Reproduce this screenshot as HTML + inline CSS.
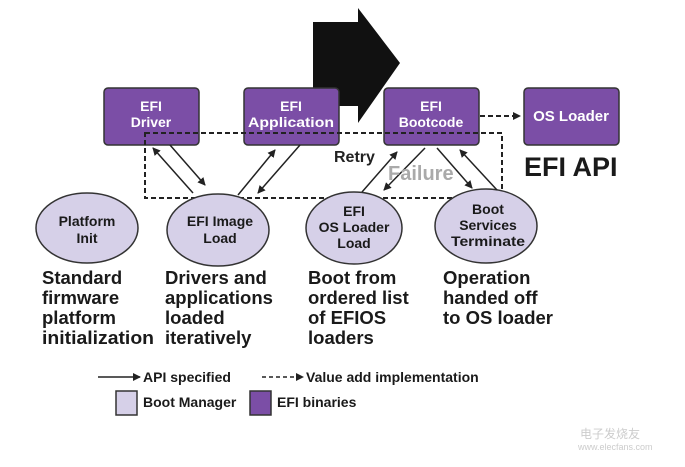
<!DOCTYPE html>
<html><head><style>
body{margin:0;width:685px;height:467px;background:#fff;position:relative;overflow:hidden;font-family:"Liberation Sans",Arial,sans-serif}
</style></head><body>
<svg width="685" height="467" style="position:absolute;left:0;top:0" font-family="Liberation Sans, Arial, sans-serif" font-weight="bold">
<defs>
<marker id="a" markerWidth="8" markerHeight="8" refX="7" refY="4" orient="auto" markerUnits="userSpaceOnUse"><path d="M0,0 L8,4 L0,8 z" fill="#222"/></marker>
</defs>
<polygon points="313,22 358,22 358,8 400,63 358,123 358,106 313,106" fill="#111"/>
<g fill="#7b4ea6" stroke="#333" stroke-width="1.5">
<rect x="104" y="88" width="95" height="57" rx="4"/>
<rect x="244" y="88" width="95" height="57" rx="4"/>
<rect x="384" y="88" width="95" height="57" rx="4"/>
<rect x="524" y="88" width="95" height="57" rx="4"/>
</g>
<g fill="#fff" font-size="14" text-anchor="middle">
<text x="151" y="111">EFI</text><text x="151" y="127">Driver</text>
<text x="291" y="111">EFI</text><text x="291" y="127" textLength="86" lengthAdjust="spacingAndGlyphs">Application</text>
<text x="431" y="111">EFI</text><text x="431" y="127">Bootcode</text>
<text x="571" y="121" font-size="15">OS Loader</text>
</g>
<line x1="480" y1="116" x2="520" y2="116" stroke="#222" stroke-width="2" stroke-dasharray="5,3" marker-end="url(#a)"/>
<rect x="145" y="133" width="357" height="65" fill="none" stroke="#222" stroke-width="2" stroke-dasharray="5,3"/>
<g fill="#d6d0e8" stroke="#333" stroke-width="1.5">
<ellipse cx="87" cy="228" rx="51" ry="35"/>
<ellipse cx="218" cy="230" rx="51" ry="36"/>
<ellipse cx="354" cy="228" rx="48" ry="36"/>
<ellipse cx="486" cy="226" rx="51" ry="37"/>
</g>
<g fill="#1a1a1a" font-size="14" text-anchor="middle">
<text x="87" y="226">Platform</text><text x="87" y="243">Init</text>
<text x="220" y="226">EFI Image</text><text x="220" y="243">Load</text>
<text x="354" y="216">EFI</text><text x="354" y="232">OS Loader</text><text x="354" y="248">Load</text>
<text x="488" y="214">Boot</text><text x="488" y="230">Services</text><text x="488" y="246" textLength="74" lengthAdjust="spacingAndGlyphs">Terminate</text>
</g>
<g stroke="#222" stroke-width="1.5" fill="none">
<line x1="193" y1="193" x2="153" y2="148" marker-end="url(#a)"/>
<line x1="170" y1="145" x2="205" y2="185" marker-end="url(#a)"/>
<line x1="238" y1="195" x2="275" y2="150" marker-end="url(#a)"/>
<line x1="300" y1="145" x2="258" y2="193" marker-end="url(#a)"/>
<line x1="362" y1="192" x2="397" y2="152" marker-end="url(#a)"/>
<line x1="425" y1="148" x2="384" y2="190" marker-end="url(#a)"/>
<line x1="437" y1="148" x2="472" y2="188" marker-end="url(#a)"/>
<line x1="497" y1="190" x2="460" y2="150" marker-end="url(#a)"/>
</g>
<text x="334" y="162" font-size="16" fill="#222">Retry</text>
<text x="388" y="180" font-size="20" fill="#aaa">Failure</text>
<text x="524" y="176" font-size="27" fill="#1a1a1a">EFI API</text>
<g font-size="18.5" fill="#1a1a1a">
<text x="42" y="284">Standard</text><text x="42" y="304">firmware</text><text x="42" y="324">platform</text><text x="42" y="344" textLength="112" lengthAdjust="spacingAndGlyphs">initialization</text>
<text x="165" y="284">Drivers and</text><text x="165" y="304">applications</text><text x="165" y="324">loaded</text><text x="165" y="344">iteratively</text>
<text x="308" y="284">Boot from</text><text x="308" y="304">ordered list</text><text x="308" y="324">of EFIOS</text><text x="308" y="344">loaders</text>
<text x="443" y="284">Operation</text><text x="443" y="304">handed off</text><text x="443" y="324">to OS loader</text>
</g>
<line x1="98" y1="377" x2="140" y2="377" stroke="#222" stroke-width="1.5" marker-end="url(#a)"/>
<text x="143" y="382" font-size="14" fill="#1a1a1a">API specified</text>
<line x1="262" y1="377" x2="303" y2="377" stroke="#222" stroke-width="1.5" stroke-dasharray="4,3" marker-end="url(#a)"/>
<text x="306" y="382" font-size="14" fill="#1a1a1a">Value add implementation</text>
<rect x="116" y="391" width="21" height="24" fill="#d6d0e8" stroke="#333" stroke-width="1.5"/>
<text x="143" y="407" font-size="14" fill="#1a1a1a">Boot Manager</text>
<rect x="250" y="391" width="21" height="24" fill="#7b4ea6" stroke="#333" stroke-width="1.5"/>
<text x="277" y="407" font-size="14" fill="#1a1a1a">EFI binaries</text>
<text x="580" y="438" font-size="12" fill="#ccc" font-weight="normal">电子发烧友</text>
<text x="578" y="450" font-size="9" fill="#ccc" font-weight="normal">www.elecfans.com</text>
</svg>
</body></html>
